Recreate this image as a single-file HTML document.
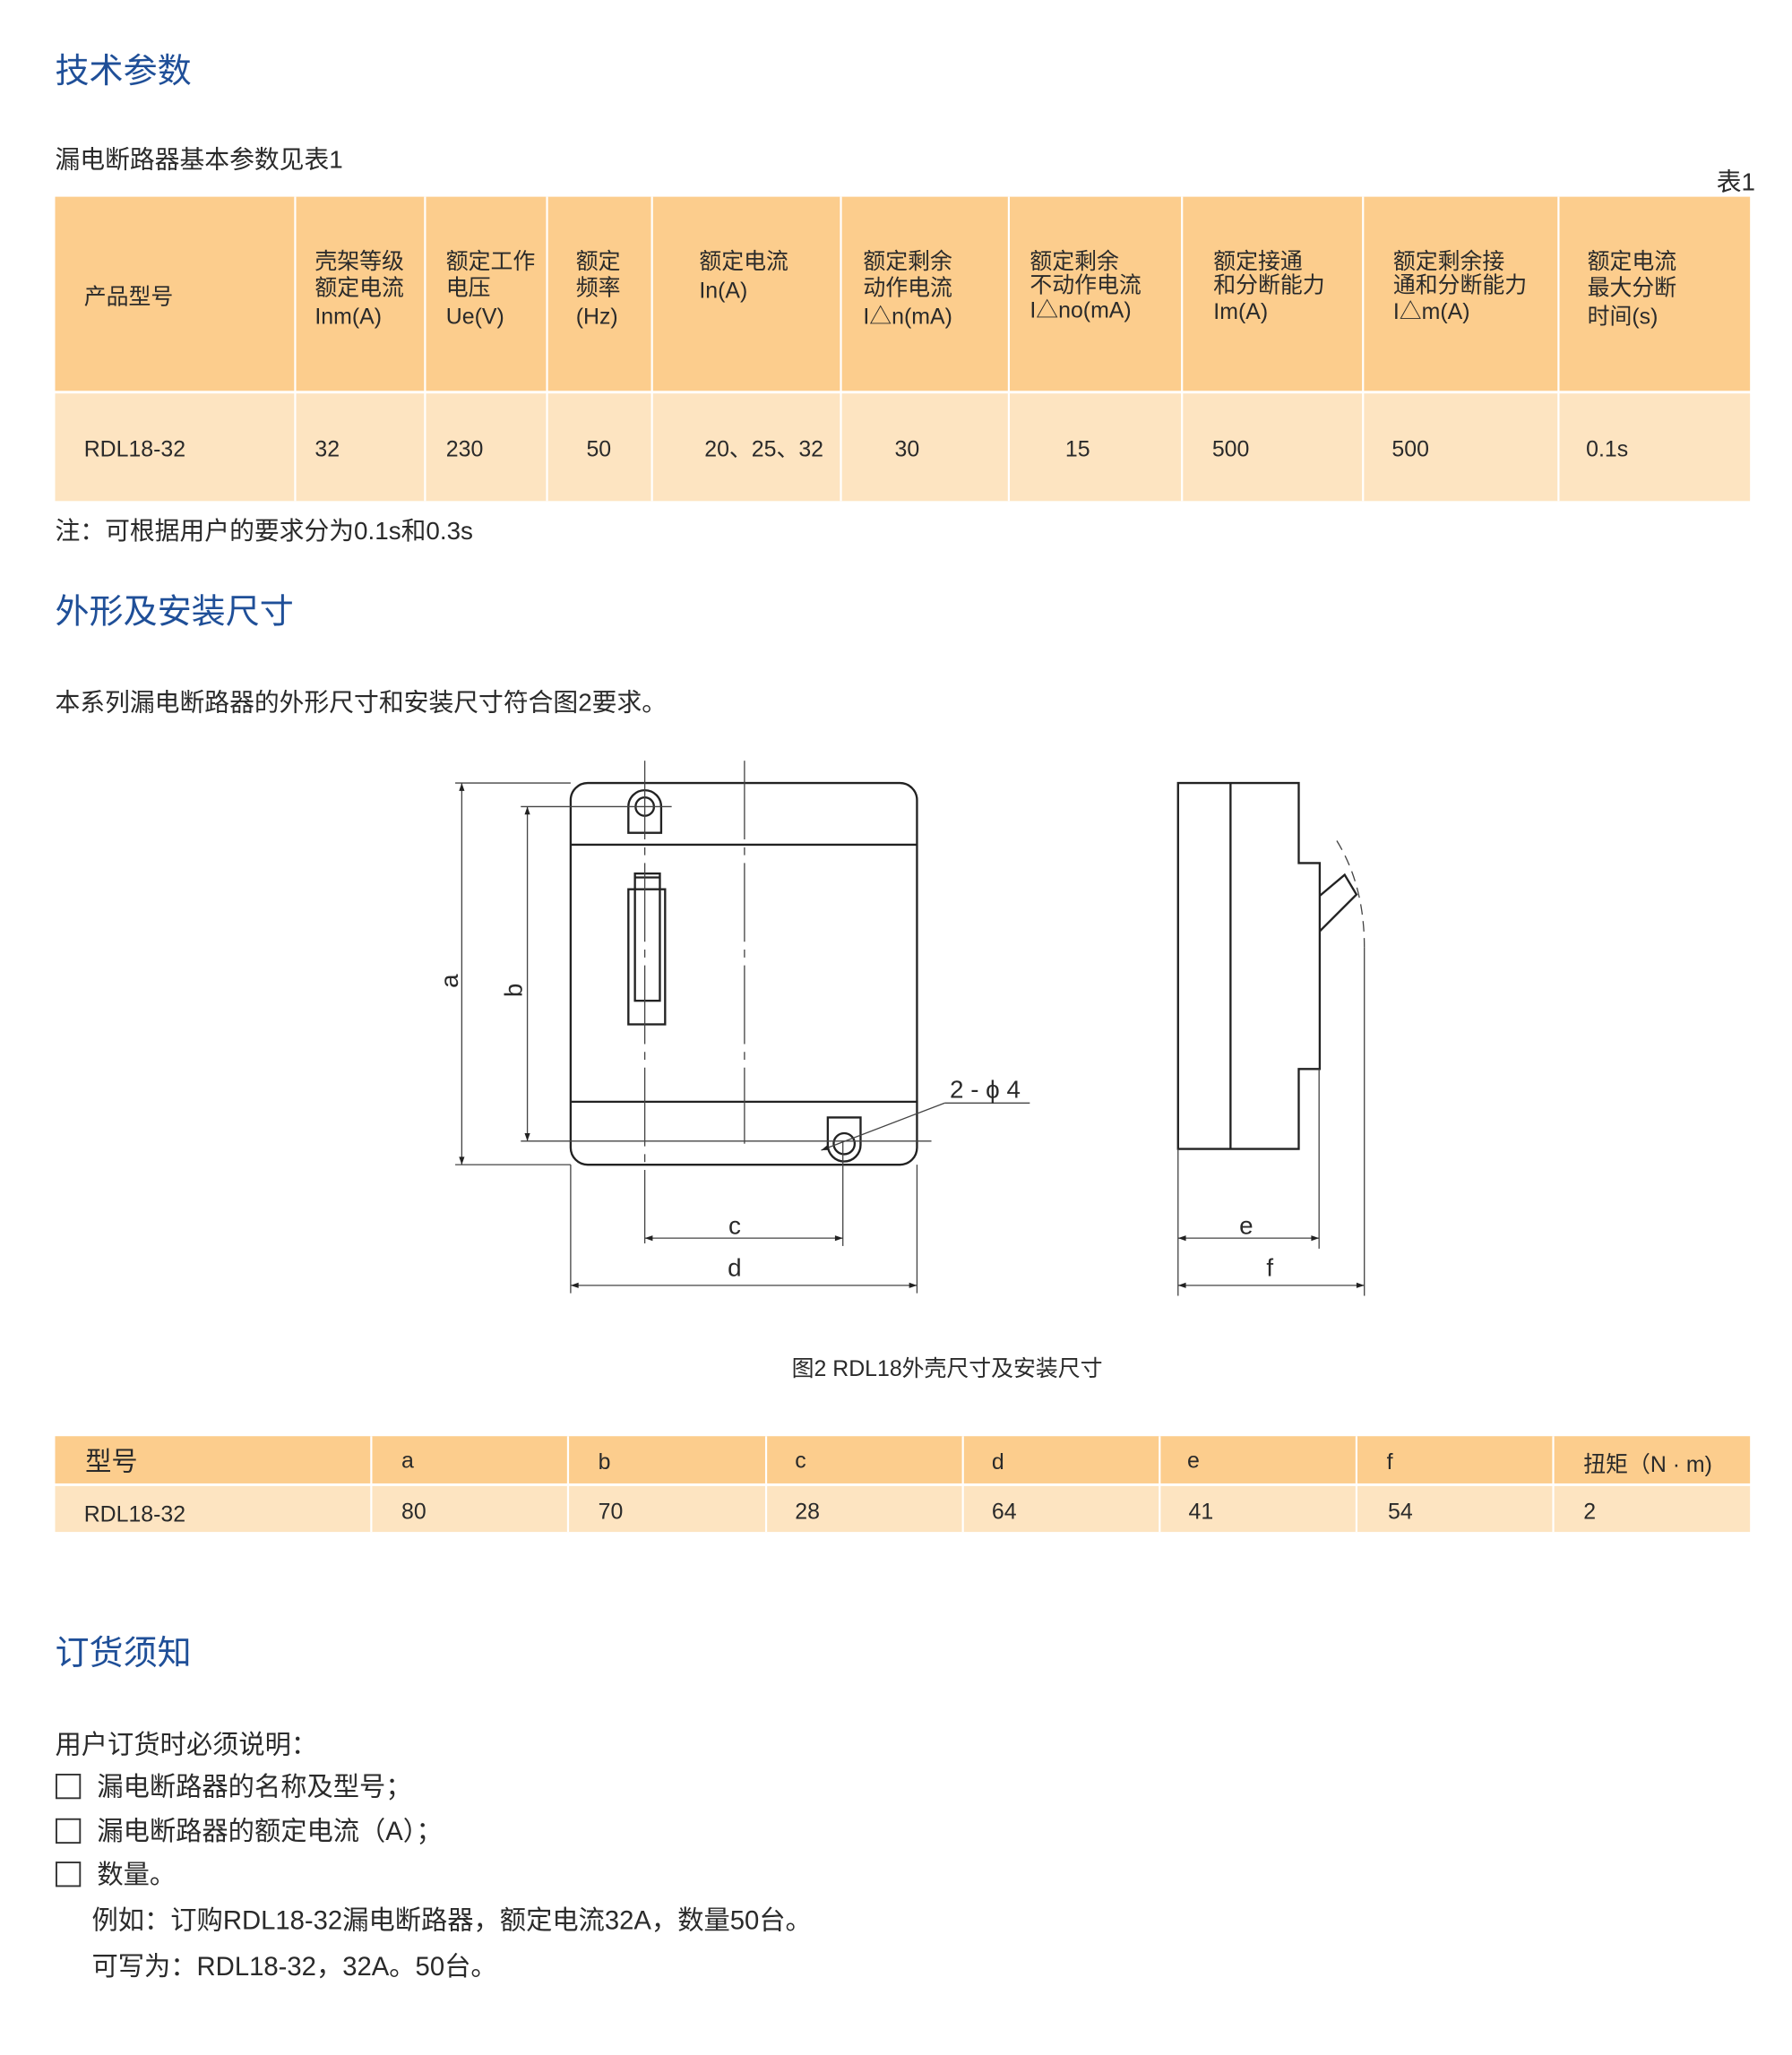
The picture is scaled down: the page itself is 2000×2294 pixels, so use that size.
<!DOCTYPE html>
<html><head><meta charset="utf-8"><style>
html,body{margin:0;padding:0;background:#fff;}
svg{display:block;}
text{font-family:"Liberation Sans","Noto Sans CJK SC",sans-serif;fill:#2a2a2a;}
.t{fill:#1f4f98;font-size:26px;}
.b{font-size:19px;}
.h{font-size:17px;}
.d{font-size:19px;}
</style></head><body>
<svg width="2000" height="2294" viewBox="0 0 1366 1566.8" xmlns="http://www.w3.org/2000/svg">
<defs>
<marker id="ar" viewBox="0 0 10 10" refX="10" refY="5" markerWidth="8" markerHeight="6" orient="auto-start-reverse" markerUnits="userSpaceOnUse"><path d="M0,1.5 L10,5 L0,8.5 z" fill="#222"/></marker>
</defs>
<text class="t" x="42" y="63">技术参数</text>
<text class="b" x="42" y="128">漏电断路器基本参数见表1</text>
<text class="b" x="1338" y="145" text-anchor="end">表1</text>
<rect x="42" y="150" width="1292" height="148" fill="#fccd8d"/>
<rect x="42" y="300" width="1292" height="82" fill="#fde4c1"/>
<g stroke="#fff" stroke-width="1.5">
<line x1="225" y1="150" x2="225" y2="382"/><line x1="324" y1="150" x2="324" y2="382"/>
<line x1="417" y1="150" x2="417" y2="382"/><line x1="497" y1="150" x2="497" y2="382"/>
<line x1="641" y1="150" x2="641" y2="382"/><line x1="769" y1="150" x2="769" y2="382"/>
<line x1="901" y1="150" x2="901" y2="382"/><line x1="1039" y1="150" x2="1039" y2="382"/>
<line x1="1188" y1="150" x2="1188" y2="382"/>
</g>
<g class="h">
<text x="64" y="232">产品型号</text>
<text x="240" y="205">壳架等级</text><text x="240" y="225">额定电流</text><text x="240" y="247">Inm(A)</text>
<text x="340" y="205">额定工作</text><text x="340" y="225">电压</text><text x="340" y="247">Ue(V)</text>
<text x="439" y="205">额定</text><text x="439" y="225">频率</text><text x="439" y="247">(Hz)</text>
<text x="533" y="205">额定电流</text><text x="533" y="227">In(A)</text>
<text x="658" y="205">额定剩余</text><text x="658" y="225">动作电流</text><text x="658" y="247">I△n(mA)</text>
<text x="785" y="205">额定剩余</text><text x="785" y="223">不动作电流</text><text x="785" y="242">I△no(mA)</text>
<text x="925" y="205">额定接通</text><text x="925" y="223">和分断能力</text><text x="925" y="243">Im(A)</text>
<text x="1062" y="205">额定剩余接</text><text x="1062" y="223">通和分断能力</text><text x="1062" y="243">I△m(A)</text>
<text x="1210" y="205">额定电流</text><text x="1210" y="225">最大分断</text><text x="1210" y="247">时间(s)</text>
<text x="64" y="348">RDL18-32</text><text x="240" y="348">32</text><text x="340" y="348">230</text>
<text x="447" y="348">50</text><text x="537" y="348">20、25、32</text><text x="682" y="348">30</text>
<text x="812" y="348">15</text><text x="924" y="348">500</text><text x="1061" y="348">500</text><text x="1209" y="348">0.1s</text>
</g>
<text class="b" x="42" y="411">注：可根据用户的要求分为0.1s和0.3s</text>
<text class="t" x="42" y="475">外形及安装尺寸</text>
<text class="b" x="42" y="542">本系列漏电断路器的外形尺寸和安装尺寸符合图2要求。</text>

<g fill="none" stroke="#222" stroke-width="1.6">
<rect x="435" y="597" width="264" height="291" rx="13"/>
<line x1="435" y1="644" x2="699" y2="644"/>
<line x1="435" y1="840" x2="699" y2="840"/>
<path d="M479,635 L479,615 A12.5,12.5 0 0 1 504,615 L504,635 Z"/>
<circle cx="491.5" cy="615" r="7"/>
<path d="M631,852 L656,852 L656,873 A12.5,12.5 0 0 1 631,873 Z"/>
<circle cx="643.5" cy="872" r="8"/>
<rect x="479" y="678" width="28" height="103"/>
<rect x="484" y="666" width="19" height="97"/>
<line x1="484" y1="669" x2="503" y2="669"/>
<!-- side view -->
<path d="M898,597 L990,597 L990,658 L1006,658 L1006,815 L990,815 L990,876 L898,876 Z"/>
<line x1="938" y1="597" x2="938" y2="876"/>
<path d="M1006,683 L1025,667 L1034,682 L1006,710"/>
</g>
<g fill="none" stroke="#444" stroke-width="0.9">
<line x1="491.5" y1="580" x2="491.5" y2="948" stroke-dasharray="60,6,6,6"/>
<line x1="567.5" y1="580" x2="567.5" y2="872" stroke-dasharray="60,6,6,6"/>
<line x1="347" y1="597" x2="435" y2="597"/>
<line x1="347" y1="888" x2="435" y2="888"/>
<line x1="397" y1="615" x2="512" y2="615"/>
<line x1="397" y1="870" x2="710" y2="870"/>
<line x1="352" y1="597" x2="352" y2="888" marker-start="url(#ar)" marker-end="url(#ar)"/>
<line x1="402" y1="615" x2="402" y2="870" marker-start="url(#ar)" marker-end="url(#ar)"/>
<line x1="435" y1="888" x2="435" y2="986"/>
<line x1="699" y1="888" x2="699" y2="986"/>
<line x1="642.5" y1="870" x2="642.5" y2="950"/>
<line x1="491.5" y1="944" x2="642.5" y2="944" marker-start="url(#ar)" marker-end="url(#ar)"/>
<line x1="435" y1="980" x2="699" y2="980" marker-start="url(#ar)" marker-end="url(#ar)"/>
<line x1="720" y1="841" x2="785" y2="841"/>
<line x1="720" y1="841" x2="626" y2="877" marker-end="url(#ar)"/>
<line x1="898" y1="876" x2="898" y2="988"/>
<line x1="1005.5" y1="815" x2="1005.5" y2="952"/>
<path d="M1019,641 Q1040,675 1040,722" stroke-dasharray="8,5"/>
<line x1="1040" y1="722" x2="1040" y2="988"/>
<line x1="898" y1="944" x2="1005.5" y2="944" marker-start="url(#ar)" marker-end="url(#ar)"/>
<line x1="898" y1="980" x2="1040" y2="980" marker-start="url(#ar)" marker-end="url(#ar)"/>
</g>
<g class="d">
<text x="0" y="0" transform="translate(349,748) rotate(-90)" text-anchor="middle">a</text>
<text x="0" y="0" transform="translate(398,755) rotate(-90)" text-anchor="middle">b</text>
<text x="560" y="941" text-anchor="middle">c</text>
<text x="560" y="973" text-anchor="middle">d</text>
<text x="950" y="941" text-anchor="middle">e</text>
<text x="968" y="973" text-anchor="middle">f</text>
<text x="724" y="837">2 - ϕ 4</text>
</g>
<text class="h" x="722" y="1049" text-anchor="middle">图2  RDL18外壳尺寸及安装尺寸</text>

<rect x="42" y="1095" width="1292" height="36" fill="#fccd8d"/>
<rect x="42" y="1133" width="1292" height="35" fill="#fde4c1"/>
<g stroke="#fff" stroke-width="1.5">
<line x1="283" y1="1095" x2="283" y2="1168"/><line x1="433" y1="1095" x2="433" y2="1168"/>
<line x1="584" y1="1095" x2="584" y2="1168"/><line x1="734" y1="1095" x2="734" y2="1168"/>
<line x1="884" y1="1095" x2="884" y2="1168"/><line x1="1034" y1="1095" x2="1034" y2="1168"/>
<line x1="1184" y1="1095" x2="1184" y2="1168"/>
</g>
<g class="h">
<text x="65" y="1121" style="font-size:20px">型号</text>
<text x="306" y="1119">a</text><text x="456" y="1120">b</text><text x="606" y="1119">c</text>
<text x="756" y="1120">d</text><text x="905" y="1119">e</text><text x="1057" y="1120">f</text>
<text x="1207" y="1122">扭矩（N · m)</text>
<text x="64" y="1160">RDL18-32</text><text x="306" y="1158">80</text><text x="456" y="1158">70</text>
<text x="606" y="1158">28</text><text x="756" y="1158">64</text><text x="906" y="1158">41</text>
<text x="1058" y="1158">54</text><text x="1207" y="1158">2</text>
</g>
<text class="t" x="42" y="1269">订货须知</text>
<g class="b" style="font-size:20px">
<text x="42" y="1337">用户订货时必须说明：</text>
<text x="74" y="1369">漏电断路器的名称及型号；</text>
<text x="74" y="1403">漏电断路器的额定电流（A）；</text>
<text x="74" y="1436">数量。</text>
<text x="70" y="1471">例如：订购RDL18-32漏电断路器，额定电流32A，数量50台。</text>
<text x="70" y="1506">可写为：RDL18-32，32A。50台。</text>
</g>
<g fill="none" stroke="#333" stroke-width="1.3">
<rect x="43" y="1353" width="18" height="18"/>
<rect x="43" y="1387" width="18" height="18"/>
<rect x="43" y="1420" width="18" height="18"/>
</g>
</svg>
</body></html>
